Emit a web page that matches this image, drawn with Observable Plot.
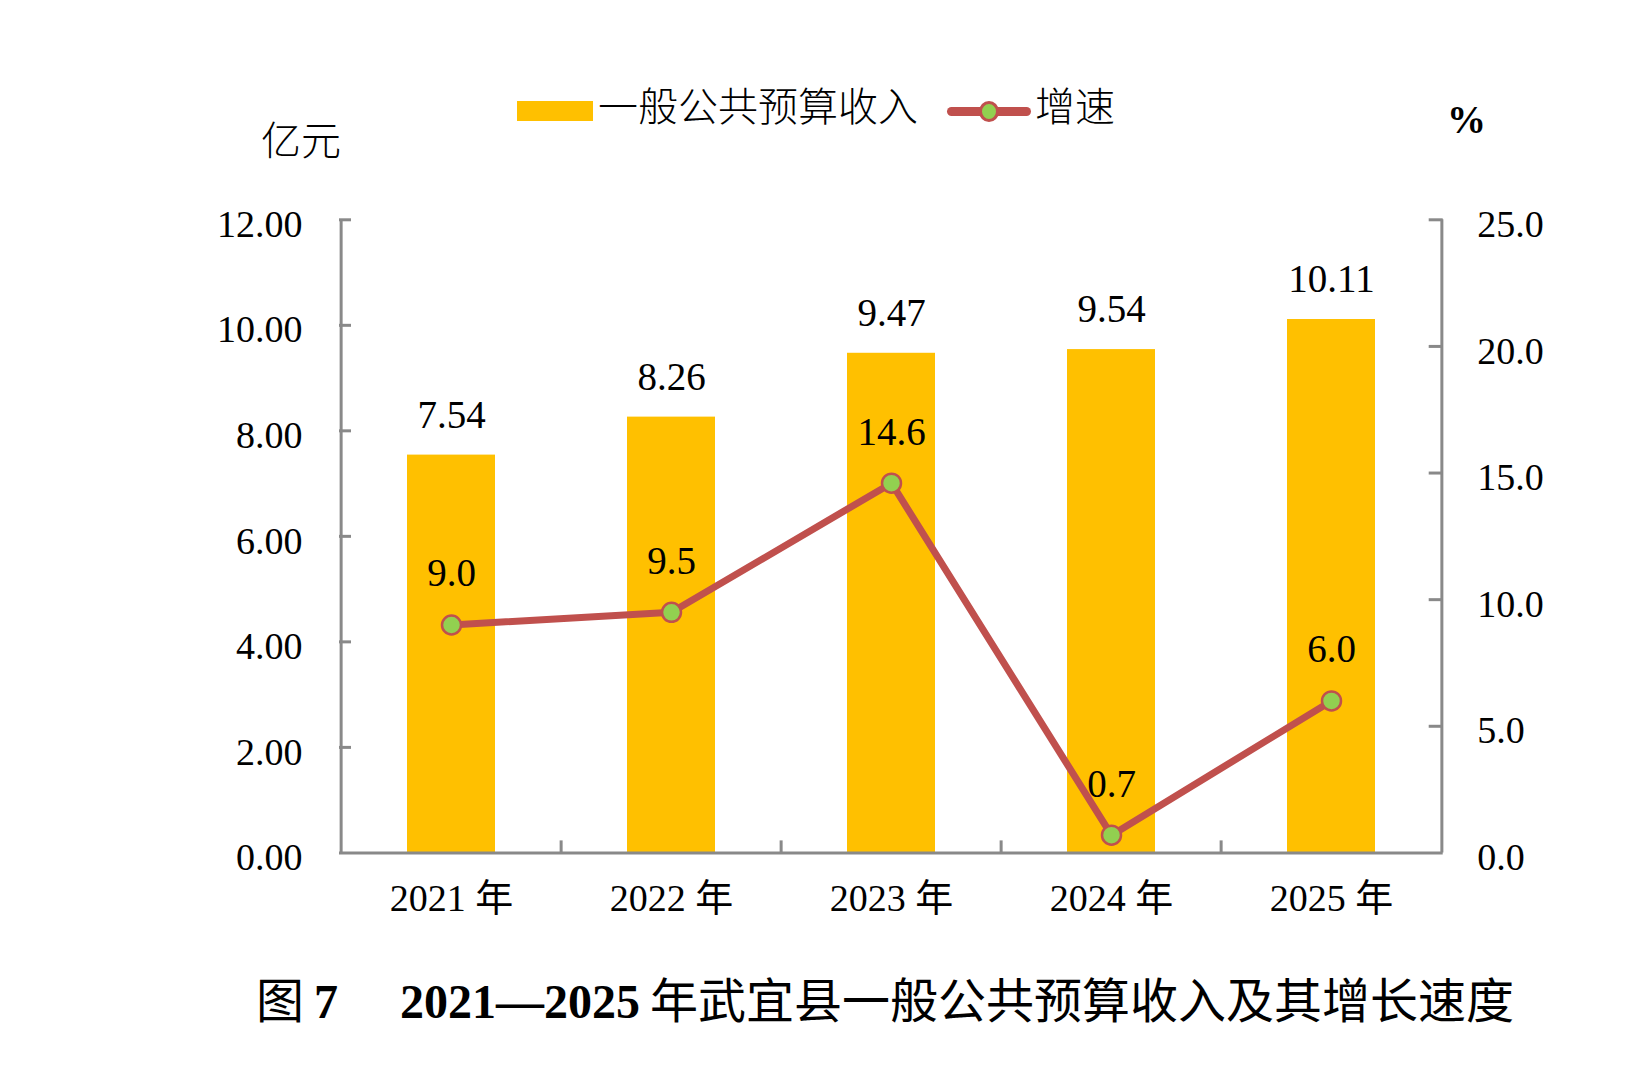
<!DOCTYPE html>
<html>
<head>
<meta charset="utf-8">
<script src="https://cdn.jsdelivr.net/npm/d3@7"></script>
<script src="https://cdn.jsdelivr.net/npm/@observablehq/plot@0.6"></script>
<style>
  html, body { margin: 0; padding: 0; background: #fff; overflow: hidden; }
  #page { position: relative; width: 1632px; height: 1068px; background: #fff; }
  #header { position: relative; width: 1632px; height: 170px; }
  .cjk { font-family: "Noto Sans CJK SC", sans-serif; font-weight: 300; color: #000; }
  .serif { font-family: "Liberation Serif", "Times New Roman", serif; color: #000; }
  .abs { position: absolute; white-space: nowrap; }
  #caption { width: 1632px; box-sizing: border-box; padding-left: 138px; padding-top: 27px; text-align: center; line-height: 60px; font-size: 48px; white-space: nowrap; }
</style>
</head>
<body>
<div id="page">
  <div id="header">
    <div class="abs" style="left:517px; top:101px; width:76px; height:20px; background:#FFC000;"></div>
    <div class="abs cjk" id="lg1" style="left:598px; top:84px; font-size:40px; line-height:40px;"></div>
    <div class="abs" style="left:947px; top:107px; width:84px; height:9px; border-radius:4.5px; background:#C0504D;"></div>
    <div class="abs" style="left:979px; top:101px; width:14px; height:15px; border-radius:50%; background:#92D050; border:3px solid #C0504D;"></div>
    <div class="abs cjk" id="lg2" style="left:1035px; top:84px; font-size:40px; line-height:40px;"></div>
    <div class="abs cjk" id="unitL" style="left:261px; top:118px; font-size:40px; line-height:40px;"></div>
    <div class="abs serif" id="unitR" style="left:1447px; top:100px; font-size:39px; line-height:39px; font-weight:bold;"></div>
  </div>
  <div id="chart"></div>
  <div id="caption"></div>
</div>
<script>
// ---- data ----
const years = ["2021 年", "2022 年", "2023 年", "2024 年", "2025 年"];
const revenue = [7.54, 8.26, 9.47, 9.54, 10.11];      // 亿元
const growth = [9.0, 9.5, 14.6, 0.7, 6.0];            // %
const leftTicks = [0, 2, 4, 6, 8, 10, 12];
const rightTicks = [0, 5, 10, 15, 20, 25];
const seriesNames = ["一般公共预算收入", "增速"];
const unitLeft = "亿元";
const unitRight = "%";
const captionParts = ["图", "7", "2021—2025", "年武宜县一般公共预算收入及其增长速度"];

// ---- text ----
document.getElementById("lg1").textContent = seriesNames[0];
document.getElementById("lg2").textContent = seriesNames[1];
document.getElementById("unitL").textContent = unitLeft;
document.getElementById("unitR").textContent = unitRight;
const cap = document.getElementById("caption");
cap.innerHTML =
  `<span class="cjk" style="font-weight:400">${captionParts[0]}</span>` +
  `<span class="serif" style="font-weight:bold; margin-left:10px">${captionParts[1]}</span>` +
  `<span class="serif" style="font-weight:bold; margin-left:62px">${captionParts[2]}</span>` +
  `<span class="cjk" style="font-weight:400; margin-left:10px">${captionParts[3]}</span>`;

// ---- chart ----
const leftMax = leftTicks[leftTicks.length - 1];
const rightMax = rightTicks[rightTicks.length - 1];
const toLeft = (v) => v * leftMax / rightMax;

const W = 1632, H = 770;
const mL = 339, mR = 189.3, mT = 49.3, mB = 87.6;
const plotW = W - mL - mR, plotH = H - mT - mB;
const step = plotW / years.length;
const gray = "#898989";
const serifFont = "'Liberation Serif', 'Noto Sans CJK SC', serif";

const rows = years.map((year, i) => ({year, revenue: revenue[i], growth: growth[i], g: toLeft(growth[i])}));

const chart = Plot.plot({
  width: W, height: H,
  marginLeft: mL, marginRight: mR, marginTop: mT, marginBottom: mB,
  x: {type: "band", domain: years, paddingInner: 0.6, paddingOuter: 0.3, align: 0.5},
  y: {domain: [0, leftMax]},
  style: {fontFamily: serifFont, fontSize: "38px", color: "#000", background: "#fff"},
  marks: [
    Plot.barY(rows, {x: "year", y: "revenue", fill: "#FFC000"}),
    Plot.ruleX([years[0]], {dx: -step / 2, stroke: gray, strokeWidth: 3}),
    Plot.ruleX([years[years.length - 1]], {dx: step / 2, stroke: gray, strokeWidth: 3}),
    Plot.ruleX(years.slice(1), {dx: -step / 2, insetTop: plotH - 12, stroke: gray, strokeWidth: 3}),
    Plot.ruleY(leftTicks.slice(1), {insetRight: plotW - 12, stroke: gray, strokeWidth: 3}),
    Plot.ruleY(rightTicks.slice(1).map(toLeft), {insetLeft: plotW - 14, stroke: gray, strokeWidth: 3}),
    Plot.ruleY([0], {stroke: gray, strokeWidth: 3}),
    Plot.axisY({anchor: "left", ticks: leftTicks, tickFormat: (d) => d.toFixed(2), tickSize: 0, tickPadding: 37, dy: 5, label: null, fontFamily: serifFont}),
    Plot.axisY({anchor: "right", ticks: rightTicks.map(toLeft), tickFormat: (d) => (d * rightMax / leftMax).toFixed(1), tickSize: 0, tickPadding: 34, dy: 5, label: null, fontFamily: serifFont}),
    Plot.axisX({tickSize: 0, tickPadding: 31, label: null, fontFamily: serifFont}),
    Plot.line(rows, {x: "year", y: "g", stroke: "#C0504D", strokeWidth: 7, strokeLinejoin: "round", strokeLinecap: "round"}),
    Plot.dot(rows, {x: "year", y: "g", r: 9.5, fill: "#92D050", stroke: "#C0504D", strokeWidth: 2.5}),
    Plot.text(rows, {x: "year", y: "revenue", text: (d) => d.revenue.toFixed(2), dy: -40, fontSize: 39}),
    Plot.text(rows, {x: "year", y: "g", text: (d) => d.growth.toFixed(1), dy: -51, fontSize: 39})
  ]
});
document.getElementById("chart").appendChild(chart);
</script>
</body>
</html>
